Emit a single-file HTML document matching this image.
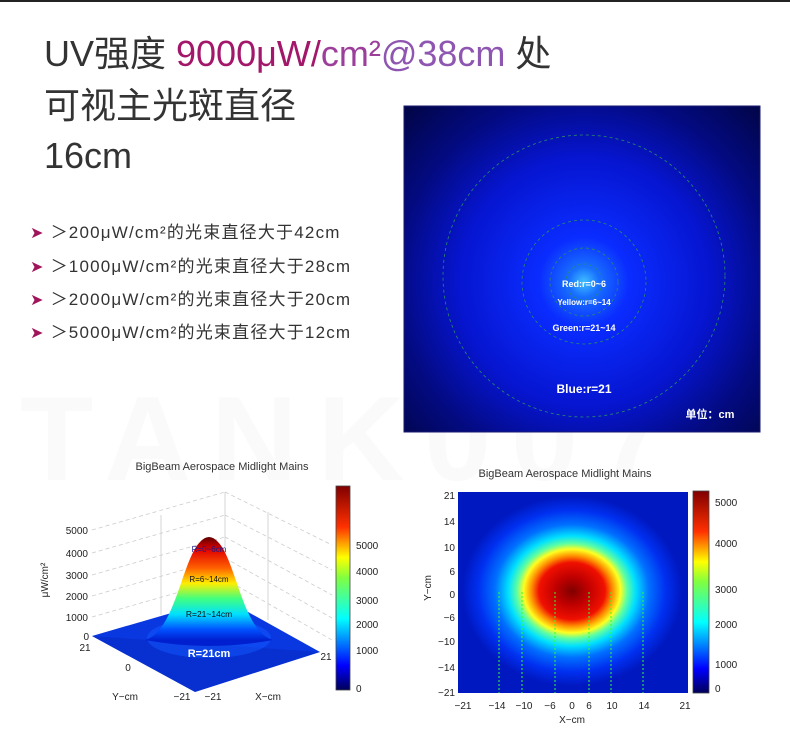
<!DOCTYPE html>
<html><head><meta charset="utf-8"><style>
body{margin:0;width:790px;height:729px;background:#fff;overflow:hidden;position:relative;font-family:"Liberation Sans","Noto Sans CJK SC",sans-serif;}
.t{position:absolute;left:44px;font-size:36px;color:#333;white-space:nowrap;line-height:40px;}
.b{position:absolute;left:30px;font-size:17px;color:#333;white-space:nowrap;letter-spacing:1.2px;}
.b i{font-style:normal;color:#a0145c;font-size:16px;margin-right:6px;}
</style></head><body>
<div style="position:absolute;left:0;top:0;width:790px;height:2px;background:#222"></div>
<div style="position:absolute;left:20px;top:370px;font-size:120px;color:#fafafa;font-weight:bold;letter-spacing:20px;white-space:nowrap">TANK007</div>
<div class="t" style="top:34px">UV强度 <span style="color:#a3176a">9000μW/</span><span style="color:#9c3f9a">cm²</span><span style="color:#8e56b0">@38cm</span> 处</div>
<div class="t" style="top:86px">可视主光斑直径</div>
<div class="t" style="top:136px">16cm</div>
<div class="b" style="top:218px"><i>➤</i>＞200μW/cm²的光束直径大于42cm</div>
<div class="b" style="top:252px"><i>➤</i>＞1000μW/cm²的光束直径大于28cm</div>
<div class="b" style="top:285px"><i>➤</i>＞2000μW/cm²的光束直径大于20cm</div>
<div class="b" style="top:318px"><i>➤</i>＞5000μW/cm²的光束直径大于12cm</div>

<svg width="790" height="729" style="position:absolute;left:0;top:0" font-family="Liberation Sans, Noto Sans CJK SC, sans-serif">
<defs>
<radialGradient id="bl" cx="584" cy="282" r="250" gradientUnits="userSpaceOnUse">
<stop offset="0" stop-color="#40c0ff"/><stop offset="0.06" stop-color="#1870ff"/><stop offset="0.18" stop-color="#0a2cff"/><stop offset="0.5" stop-color="#0615d0"/><stop offset="0.75" stop-color="#030a80"/><stop offset="1" stop-color="#010545"/>
</radialGradient>
<linearGradient id="jet" x1="0" y1="1" x2="0" y2="0">
<stop offset="0" stop-color="#00005a"/><stop offset="0.12" stop-color="#0000ff"/><stop offset="0.35" stop-color="#00ffff"/><stop offset="0.55" stop-color="#80ff40"/><stop offset="0.65" stop-color="#ffff00"/><stop offset="0.8" stop-color="#ff3000"/><stop offset="1" stop-color="#800000"/>
</linearGradient>
<linearGradient id="peak" x1="0" y1="537" x2="0" y2="640" gradientUnits="userSpaceOnUse">
<stop offset="0" stop-color="#600000"/><stop offset="0.12" stop-color="#e00000"/><stop offset="0.3" stop-color="#ff6000"/><stop offset="0.45" stop-color="#ffee00"/><stop offset="0.6" stop-color="#40ff80"/><stop offset="0.75" stop-color="#00e0ff"/><stop offset="0.9" stop-color="#0050ff"/><stop offset="1" stop-color="#0020d0"/>
</linearGradient>
<radialGradient id="hm" cx="572" cy="591" r="1" gradientUnits="userSpaceOnUse" gradientTransform="translate(572 591) scale(110 95) translate(-572 -591)">
<stop offset="0" stop-color="#800000"/><stop offset="0.15" stop-color="#c00000"/><stop offset="0.3" stop-color="#f01000"/><stop offset="0.37" stop-color="#ff9000"/><stop offset="0.44" stop-color="#ffff20"/><stop offset="0.5" stop-color="#60ffa0"/><stop offset="0.58" stop-color="#00e0ff"/><stop offset="0.7" stop-color="#0070ff"/><stop offset="0.85" stop-color="#0030f0"/><stop offset="1" stop-color="#0018c0"/>
</radialGradient>
</defs>
<rect x="404" y="106" width="356" height="326" fill="url(#bl)" stroke="#1a1a70"/>
<g fill="none" stroke="#2a8a6a" stroke-dasharray="3,3" stroke-width="0.8">
<circle cx="584" cy="276" r="141"/><circle cx="584" cy="282" r="62"/><circle cx="584" cy="282" r="34"/><circle cx="584" cy="282" r="18"/>
</g>
<g fill="#fff" text-anchor="middle" font-weight="bold">
<text x="584" y="287" font-size="9">Red:r=0~6</text>
<text x="584" y="305" font-size="8">Yellow:r=6~14</text>
<text x="584" y="331" font-size="9">Green:r=21~14</text>
<text x="584" y="393" font-size="12">Blue:r=21</text>
<text x="710" y="418" font-size="11">单位：cm</text>
</g>
<text x="222" y="470" font-size="11" text-anchor="middle" fill="#333">BigBeam Aerospace Midlight Mains</text>
<g stroke="#ccc" stroke-dasharray="4,3" fill="none" stroke-width="0.8">
<line x1="92" y1="530" x2="225" y2="492"/><line x1="92" y1="553" x2="225" y2="515"/><line x1="92" y1="575" x2="225" y2="537"/><line x1="92" y1="596" x2="225" y2="558"/><line x1="92" y1="617" x2="225" y2="579"/>
<line x1="225" y1="492" x2="332" y2="545"/><line x1="225" y1="515" x2="332" y2="570"/><line x1="225" y1="537" x2="332" y2="595"/><line x1="225" y1="558" x2="332" y2="618"/><line x1="225" y1="579" x2="332" y2="640"/>
</g>
<g stroke="#ccc" stroke-width="0.8"><line x1="161" y1="515" x2="161" y2="615"/><line x1="225" y1="492" x2="225" y2="598"/><line x1="268" y1="512" x2="268" y2="620"/></g>
<polygon points="92,636 223,598 320,652 195,692" fill="#0a38e0"/>
<polygon points="92,636 195,692 320,652" fill="#0628c0" opacity="0.5"/>
<ellipse cx="209" cy="638" rx="62" ry="20" fill="#1058ff" opacity="0.5"/>
<path d="M145,640 C175,632 182,560 200,542 Q209,532 218,542 C236,560 243,632 273,640 Q209,652 145,640 Z" fill="url(#peak)"/>
<g text-anchor="middle">
<text x="209" y="552" font-size="8" fill="#1a1a8a">R=0~6cm</text>
<text x="209" y="582" font-size="8" fill="#111">R=6~14cm</text>
<text x="209" y="617" font-size="8.5" fill="#111">R=21~14cm</text>
<text x="209" y="657" font-size="11" fill="#fff" font-weight="bold">R=21cm</text>
</g>
<g font-size="10" fill="#222" text-anchor="end">
<text x="88" y="534">5000</text><text x="88" y="557">4000</text><text x="88" y="579">3000</text><text x="88" y="600">2000</text><text x="88" y="621">1000</text><text x="89" y="640">0</text>
</g>
<text transform="translate(48 580) rotate(-90)" font-size="10" fill="#222" text-anchor="middle">μW/cm²</text>
<g font-size="10" fill="#222" text-anchor="middle">
<text x="85" y="651">21</text><text x="128" y="671">0</text><text x="125" y="700">Y−cm</text><text x="182" y="700">−21</text><text x="213" y="700">−21</text><text x="268" y="700">X−cm</text><text x="326" y="660">21</text>
</g>
<rect x="336" y="486" width="14" height="204" fill="url(#jet)" stroke="#444" stroke-width="0.8"/>
<g font-size="10" fill="#222"><text x="356" y="549">5000</text><text x="356" y="575">4000</text><text x="356" y="604">3000</text><text x="356" y="628">2000</text><text x="356" y="654">1000</text><text x="356" y="692">0</text></g>
<text x="565" y="477" font-size="11" text-anchor="middle" fill="#333">BigBeam Aerospace Midlight Mains</text>
<rect x="458" y="492" width="230" height="201" fill="url(#hm)"/>
<g stroke="#30ff30" stroke-dasharray="2,2" stroke-width="1"><line x1="499" y1="592" x2="499" y2="693"/><line x1="522" y1="592" x2="522" y2="693"/><line x1="555" y1="592" x2="555" y2="693"/><line x1="589" y1="592" x2="589" y2="693"/><line x1="611" y1="592" x2="611" y2="693"/><line x1="643" y1="592" x2="643" y2="693"/></g>
<g font-size="10" fill="#222" text-anchor="end">
<text x="455" y="499">21</text><text x="455" y="525">14</text><text x="455" y="551">10</text><text x="455" y="575">6</text><text x="455" y="598">0</text><text x="455" y="621">−6</text><text x="455" y="645">−10</text><text x="455" y="671">−14</text><text x="455" y="696">−21</text>
</g>
<g font-size="10" fill="#222" text-anchor="middle">
<text x="463" y="709">−21</text><text x="497" y="709">−14</text><text x="524" y="709">−10</text><text x="550" y="709">−6</text><text x="572" y="709">0</text><text x="589" y="709">6</text><text x="612" y="709">10</text><text x="644" y="709">14</text><text x="685" y="709">21</text>
<text x="572" y="723">X−cm</text>
</g>
<text transform="translate(431 588) rotate(-90)" font-size="10" fill="#222" text-anchor="middle">Y−cm</text>
<rect x="693" y="491" width="16" height="202" fill="url(#jet)" stroke="#444" stroke-width="0.8"/>
<g font-size="10" fill="#222"><text x="715" y="506">5000</text><text x="715" y="547">4000</text><text x="715" y="593">3000</text><text x="715" y="628">2000</text><text x="715" y="668">1000</text><text x="715" y="692">0</text></g>
</svg>
</body></html>
